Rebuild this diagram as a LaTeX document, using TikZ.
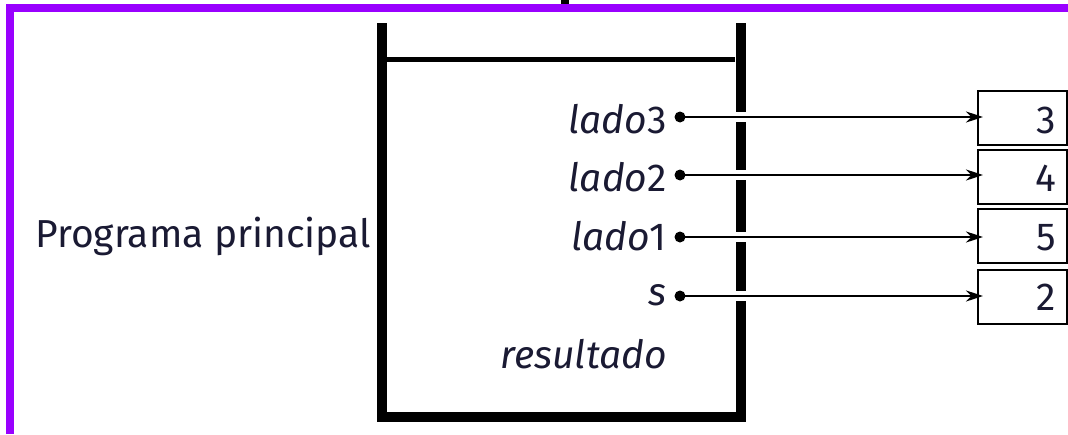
\documentclass[tikz,border=0pt]{standalone}
\usepackage{fontspec}
\setsansfont{Fira Sans}
\usetikzlibrary{arrows.meta}
\definecolor{framepurple}{HTML}{9900FF}
\definecolor{inkdark}{HTML}{1A1A33}
\tikzset{
  wall/.style={line width=10pt, line cap=butt},
  lid/.style={line width=4.5pt},
  varname/.style={anchor=base east, inner sep=0pt, font=\sffamily\fontsize{39}{39}\selectfont, text=inkdark},
  pin/.style={circle, fill=black, inner sep=0pt, minimum size=11pt},
  cell/.style={draw, line width=2.2pt, minimum width=89pt, minimum height=54pt, inner sep=0pt, anchor=north west},
  cellval/.style={anchor=base east, inner sep=0pt, font=\sffamily\fontsize{39}{39}\selectfont, text=inkdark},
  link/.style={line width=2.4pt, -{Stealth[length=17pt, width=11pt]}, shorten >=-6pt},
  gap/.style={white, line width=10pt},
}
\begin{document}
\begin{tikzpicture}[x=1pt, y=-1pt]
  \useasboundingbox (0,0) rectangle (1068,434);
  % outer frame (left and top edges)
  \fill[framepurple] (6,4) rectangle (1068,12);
  \fill[framepurple] (6,4) rectangle (14,434);
  \fill[black] (561,0) rectangle (569,4);

  % the container
  \draw[wall] (382,23) -- (382,416.5) -- (740.5,416.5) -- (740.5,23);
  \draw[lid] (387,59.5) -- (735,59.5);

  % caption on the left
  \node[varname] (prog) at (371,247) {Programa principal};

  % variable names
  \node[varname] (l3) at (667,133) {\textit{lado}3};
  \node[varname] (l2) at (667,191) {\textit{lado}2};
  \node[varname] (l1) at (667,250) {\textit{lado}1};
  \node[varname] (s)  at (667,305) {\textit{s}};
  \node[varname] (res) at (667,368) {\textit{resultado}};

  % pins
  \node[pin] (p3) at (680,117) {};
  \node[pin] (p2) at (680,175) {};
  \node[pin] (p1) at (680,237) {};
  \node[pin] (ps) at (680,296) {};

  % value cells
  \node[cell] (c3) at (977,90) {};
  \node[cell] (c2) at (977,149) {};
  \node[cell] (c1) at (977,208) {};
  \node[cell] (cs) at (977,269) {};
  \node[cellval] (v3) at (1056,133) {3};
  \node[cellval] (v2) at (1056,191) {4};
  \node[cellval] (v1) at (1056,250) {5};
  \node[cellval] (vs) at (1056,310) {2};

  % openings in the right wall
  \foreach \yy in {117,175,237,296}
    \draw[gap] (733,\yy) -- (748,\yy);

  % references
  \draw[link] (p3.center) -- (c3.west |- p3);
  \draw[link] (p2.center) -- (c2.west |- p2);
  \draw[link] (p1.center) -- (c1.west |- p1);
  \draw[link] (ps.center) -- (cs.west |- ps);
\end{tikzpicture}
\end{document}
